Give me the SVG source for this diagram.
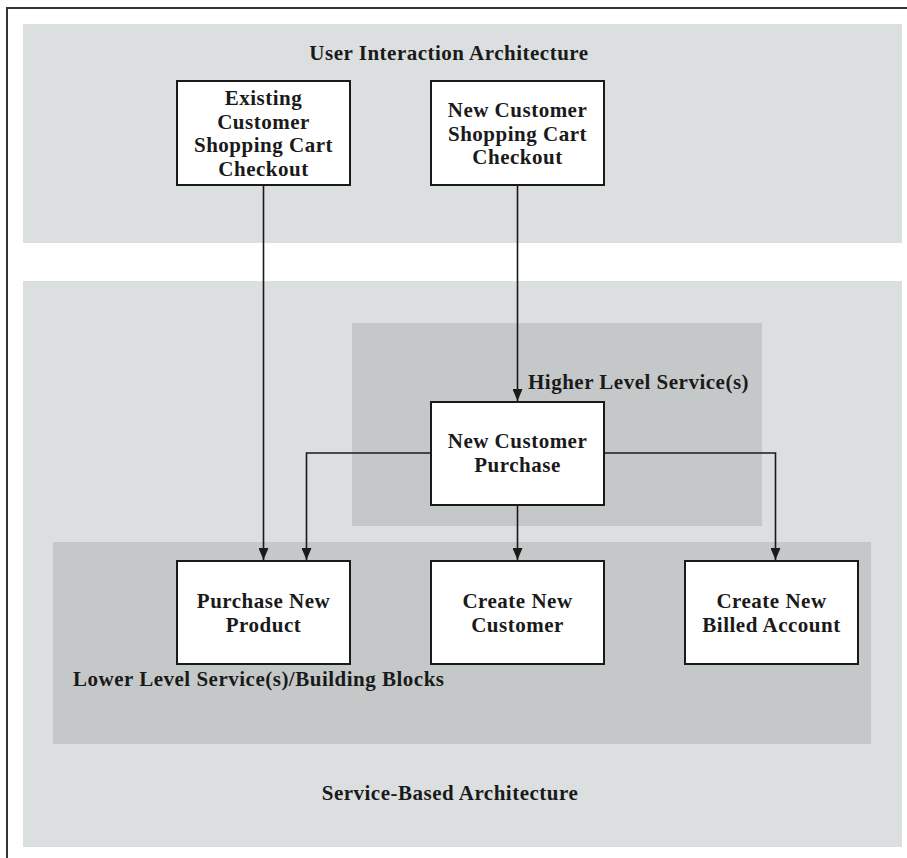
<svg xmlns="http://www.w3.org/2000/svg" width="907" height="858" viewBox="0 0 907 858">
<defs>
<style>
.panel{fill:#dcdfe0;}
.inner{fill:#c5c8c9;}
.box{fill:#ffffff;stroke:#1a1a1a;stroke-width:2;}
.t{font-family:"Liberation Serif","Times New Roman",serif;font-weight:bold;font-size:21px;letter-spacing:0.5px;fill:#1a1a1a;}
.c{text-anchor:middle;}
.conn{fill:none;stroke:#1a1a1a;stroke-width:1.6;}
</style>
<marker id="arr" markerUnits="userSpaceOnUse" markerWidth="12" markerHeight="10" refX="12" refY="5" orient="auto">
<path d="M0,0 L12,5 L0,10 z" fill="#1a1a1a"/>
</marker>
</defs>
<rect width="907" height="858" fill="#ffffff"/>
<path d="M7,858 V8 H907" fill="none" stroke="#333333" stroke-width="2"/>
<g id="user-interaction-panel">
<rect class="panel" x="23" y="24" width="879" height="219"/>
<text class="t c" x="449" y="60">User Interaction Architecture</text>
</g>
<g id="service-based-panel">
<rect class="panel" x="23" y="281" width="879" height="566"/>
<text class="t c" x="450" y="800">Service-Based Architecture</text>
</g>
<g id="higher-level-panel">
<rect class="inner" x="352" y="323" width="410" height="203"/>
<text class="t" x="528" y="389">Higher Level Service(s)</text>
</g>
<g id="lower-level-panel">
<rect class="inner" x="53" y="542" width="818" height="202"/>
<text class="t" x="73" y="686">Lower Level Service(s)/Building Blocks</text>
</g>
<g id="connectors">
<path class="conn" d="M263.5,185 V560" marker-end="url(#arr)"/>
<path class="conn" d="M517.5,185 V401" marker-end="url(#arr)"/>
<path class="conn" d="M431,453 H306.5 V560" marker-end="url(#arr)"/>
<path class="conn" d="M604,453 H775.5 V560" marker-end="url(#arr)"/>
<path class="conn" d="M517.5,505 V560" marker-end="url(#arr)"/>
</g>
<g id="existing-checkout">
<rect class="box" x="177" y="81" width="173" height="104"/>
<text class="t c" x="263.5" y="105">Existing</text>
<text class="t c" x="263.5" y="128.5">Customer</text>
<text class="t c" x="263.5" y="152">Shopping Cart</text>
<text class="t c" x="263.5" y="175.5">Checkout</text>
</g>
<g id="new-checkout">
<rect class="box" x="431" y="81" width="173" height="104"/>
<text class="t c" x="517.5" y="117">New Customer</text>
<text class="t c" x="517.5" y="140.5">Shopping Cart</text>
<text class="t c" x="517.5" y="164">Checkout</text>
</g>
<g id="new-customer-purchase">
<rect class="box" x="431" y="402" width="173" height="103"/>
<text class="t c" x="517.5" y="448">New Customer</text>
<text class="t c" x="517.5" y="471.5">Purchase</text>
</g>
<g id="purchase-new-product">
<rect class="box" x="177" y="561" width="173" height="103"/>
<text class="t c" x="263.5" y="608">Purchase New</text>
<text class="t c" x="263.5" y="631.5">Product</text>
</g>
<g id="create-new-customer">
<rect class="box" x="431" y="561" width="173" height="103"/>
<text class="t c" x="517.5" y="608">Create New</text>
<text class="t c" x="517.5" y="631.5">Customer</text>
</g>
<g id="create-new-billed-account">
<rect class="box" x="685" y="561" width="173" height="103"/>
<text class="t c" x="771.5" y="608">Create New</text>
<text class="t c" x="771.5" y="631.5">Billed Account</text>
</g>
</svg>
